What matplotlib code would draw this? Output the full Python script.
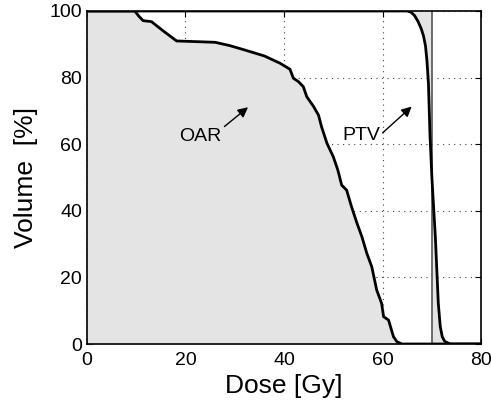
import numpy as np
import matplotlib
matplotlib.use("Agg")
import matplotlib.pyplot as plt

plt.rcParams['font.family'] = ['Liberation Sans', 'DejaVu Sans']

# DVH del organo a riesgo (OAR)
oar_dose = [0, 9.7, 10.5, 11.4, 13.1, 15.5, 18.2, 26.0, 29.0, 32.0, 36.0, 39.2, 41.2,
            41.9, 42.9, 43.9, 44.6, 46.0, 47.0, 47.6, 48.7, 50.0, 50.9, 51.7, 52.7,
            53.7, 54.7, 55.8, 56.8, 57.8, 58.8, 59.8, 60.2, 61.2, 62.2, 62.9, 63.9, 80]
oar_vol = [100, 100, 98.5, 97.1, 96.8, 94.0, 91.0, 90.6, 89.6, 88.3, 86.5, 84.3, 82.5,
           79.8, 78.8, 77.3, 74.3, 71.3, 68.7, 65.3, 60.3, 56.2, 52.3, 47.7, 46.2,
           41.2, 36.7, 32.2, 27.2, 23.2, 16.2, 12.2, 8.2, 7.2, 2.2, 0.7, 0, 0]

# DVH del volumen blanco (PTV)
ptv_dose = [0, 65.0, 65.8, 66.5, 67.2, 67.8, 68.3, 68.7, 69.0, 69.3, 69.6, 70.0, 70.3,
            70.7, 71.0, 71.3, 71.7, 72.1, 72.6, 73.7, 80]
ptv_vol = [100, 100, 99.6, 98.6, 96.8, 94.8, 92.5, 89.5, 85.0, 78.2, 63.3, 50.0, 42.2,
           32.2, 22.2, 12.2, 5.2, 2.2, 0.8, 0, 0]

dosis_presc = 70

fig = plt.figure(figsize=(4.91, 4.04), dpi=100)
ax = fig.add_axes([0.177, 0.1485, 0.803, 0.8243])

gris = '#e4e4e4'
ax.fill_between(oar_dose, 0, oar_vol, color=gris, zorder=2, lw=0)

# areas de sub y sobre dosis del PTV
x = np.array(ptv_dose, dtype=float)
y = np.array(ptv_vol, dtype=float)
xs = np.sort(np.concatenate([x, [dosis_presc]]))
ys = np.interp(xs, x, y)
ax.fill_between(xs, ys, 100, where=xs <= dosis_presc, color=gris, zorder=2, lw=0)
ax.fill_between(xs, 0, ys, where=xs >= dosis_presc, color=gris, zorder=2, lw=0)

ax.axvline(dosis_presc, color='#555555', lw=1.2, zorder=3)
ax.plot(oar_dose, oar_vol, 'k', lw=2, zorder=4)
ax.plot(ptv_dose, ptv_vol, 'k', lw=2, zorder=4)

ax.set_xlim(0, 80)
ax.set_ylim(0, 100)
ax.set_xticks([0, 20, 40, 60, 80])
ax.set_yticks([0, 20, 40, 60, 80, 100])
ax.tick_params(direction='in', top=True, right=True, labelsize=14, length=4)
ax.tick_params(axis='x', pad=6)
ax.grid(True, linestyle=(0, (1, 4)), color='#444444', lw=0.8, zorder=1)
ax.set_axisbelow(True)
for s in ax.spines.values():
    s.set_zorder(5)
    s.set_linewidth(1.2)

ax.set_xlabel('Dose [Gy]', fontsize=19, labelpad=3)
ax.set_ylabel('Volume  [%]', fontsize=19, labelpad=8)

# etiquetas con flechas
ax.text(22.9, 62.3, 'OAR', fontsize=14, ha='center', va='center', zorder=6)
ax.annotate('', xy=(32.7, 71.1), xytext=(27.9, 65.3), zorder=6,
            arrowprops=dict(arrowstyle='-|>', color='k', lw=1, shrinkA=0, shrinkB=0,
                            mutation_scale=15))
ax.text(55.7, 62.5, 'PTV', fontsize=14, ha='center', va='center', zorder=6)
ax.annotate('', xy=(65.9, 71.3), xytext=(60.0, 63.4), zorder=6,
            arrowprops=dict(arrowstyle='-|>', color='k', lw=1, shrinkA=0, shrinkB=0,
                            mutation_scale=15))

fig.savefig('out.png', dpi=100)
